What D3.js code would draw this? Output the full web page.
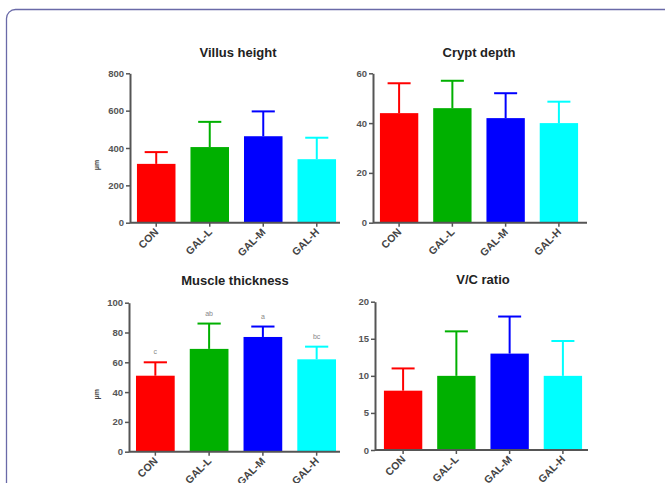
<!DOCTYPE html>
<html><head><meta charset="utf-8">
<script src="https://cdn.jsdelivr.net/npm/d3@7"></script>
<style>body{margin:0;background:#fff}svg{display:block}</style>
</head><body>
<script>
const categories = ["CON", "GAL-L", "GAL-M", "GAL-H"];
const colors = ["#ff0000", "#00b000", "#0000ff", "#00ffff"];

const villusMean = [315, 405, 463, 340];
const villusSD = [63, 135, 133, 115];
const villusTicks = [0, 200, 400, 600, 800];

const cryptMean = [44, 46, 42, 40];
const cryptSD = [12, 11, 10, 8.6];
const cryptTicks = [0, 20, 40, 60];

const muscleMean = [51, 69, 77, 62];
const muscleSD = [9, 17, 7, 8.5];
const muscleTicks = [0, 20, 40, 60, 80, 100];
const muscleLetters = ["c", "ab", "a", "bc"];

const vcMean = [8, 10, 13, 10];
const vcSD = [3, 6, 5, 4.7];
const vcTicks = [0, 5, 10, 15, 20];

const panels = [
  {title: "Villus height", mean: villusMean, sd: villusSD, ticks: villusTicks, max: 800, ylabel: "μm",
   ax: 130, bx0: 130, bx1: 343, axEnd: 340, y0: 222.7, y1: 73.3, tx: 238, ty: 57},
  {title: "Crypt depth", mean: cryptMean, sd: cryptSD, ticks: cryptTicks, max: 60, ylabel: "",
   ax: 373, bx0: 373, bx1: 585, axEnd: 587, y0: 222.7, y1: 73.3, tx: 479, ty: 57},
  {title: "Muscle thickness", mean: muscleMean, sd: muscleSD, ticks: muscleTicks, max: 100, ylabel: "μm", letters: muscleLetters,
   ax: 129, bx0: 129, bx1: 343, axEnd: 340, y0: 451.7, y1: 302.7, tx: 235, ty: 285},
  {title: "V/C ratio", mean: vcMean, sd: vcSD, ticks: vcTicks, max: 20, ylabel: "",
   ax: 375, bx0: 377, bx1: 589, axEnd: 588, y0: 450, y1: 301.7, tx: 483, ty: 284}
];

const svg = d3.select("body").append("svg").attr("width", 665).attr("height", 483);

svg.append("rect").attr("x", 6.5).attr("y", 9.5).attr("width", 680).attr("height", 520)
  .attr("rx", 9).attr("fill", "none").attr("stroke", "#6a6aa8").attr("stroke-width", 1.3);

const axisColor = "#555";
const font = "'Liberation Sans', Arial, sans-serif";

panels.forEach(p => {
  const g = svg.append("g");
  const x = d3.scaleBand().domain(categories).range([p.bx0, p.bx1]).paddingInner(0.28).paddingOuter(0.13);
  const y = d3.scaleLinear().domain([0, p.max]).range([p.y0, p.y1]);

  // title
  g.append("text").attr("x", p.tx).attr("y", p.ty).attr("text-anchor", "middle")
    .attr("font-family", font).attr("font-weight", "bold").attr("font-size", 13).attr("fill", "#222")
    .text(p.title);

  // error bars
  const bw = x.bandwidth();
  categories.forEach((c, i) => {
    const cx = x(c) + bw / 2;
    const top = y(p.mean[i] + p.sd[i]);
    g.append("line").attr("x1", cx).attr("x2", cx).attr("y1", y(p.mean[i])).attr("y2", top)
      .attr("stroke", colors[i]).attr("stroke-width", 2);
    g.append("line").attr("x1", cx - bw * 0.3).attr("x2", cx + bw * 0.3).attr("y1", top).attr("y2", top)
      .attr("stroke", colors[i]).attr("stroke-width", 2);
  });

  // bars
  g.selectAll("rect.bar").data(categories).join("rect")
    .attr("x", c => x(c)).attr("width", bw)
    .attr("y", (c, i) => y(p.mean[i])).attr("height", (c, i) => p.y0 - y(p.mean[i]))
    .attr("fill", (c, i) => colors[i]);

  // letters
  if (p.letters) {
    categories.forEach((c, i) => {
      g.append("text").attr("x", x(c) + bw / 2).attr("y", y(p.mean[i] + p.sd[i]) - 8)
        .attr("text-anchor", "middle").attr("font-family", font).attr("font-size", 7).attr("fill", "#888")
        .text(p.letters[i]);
    });
  }

  // y axis
  const yAxis = g.append("g").attr("transform", `translate(${p.ax},0)`)
    .call(d3.axisLeft(y).tickValues(p.ticks).tickSize(4).tickSizeOuter(0).tickPadding(2));
  yAxis.select(".domain").attr("stroke", axisColor).attr("stroke-width", 2);
  yAxis.selectAll(".tick line").attr("stroke", axisColor).attr("stroke-width", 1.5);
  yAxis.selectAll("text").attr("font-family", font).attr("font-weight", "bold").attr("font-size", 9.5).attr("fill", "#555");

  // x axis
  const xAxis = g.append("g").attr("transform", `translate(0,${p.y0})`)
    .call(d3.axisBottom(x).tickSize(4).tickSizeOuter(0).tickPadding(3));
  xAxis.select(".domain").attr("d", `M${p.ax},0H${p.axEnd}`).attr("stroke", axisColor).attr("stroke-width", 2);
  xAxis.selectAll(".tick line").attr("stroke", axisColor).attr("stroke-width", 1.5);
  xAxis.selectAll("text").attr("font-family", font).attr("font-weight", "bold").attr("font-size", 10.5).attr("fill", "#444")
    .attr("text-anchor", "end").attr("dy", 0).attr("y", 0)
    .attr("transform", "translate(3,10) rotate(-45)");

  if (p.ylabel) {
    g.append("text").attr("transform", `translate(99,${(p.y0 + p.y1) / 2 + 17}) rotate(-90)`)
      .attr("text-anchor", "middle").attr("font-family", font).attr("font-weight", "bold").attr("font-size", 7).attr("fill", "#444")
      .text(p.ylabel);
  }
});
</script>
</body></html>
